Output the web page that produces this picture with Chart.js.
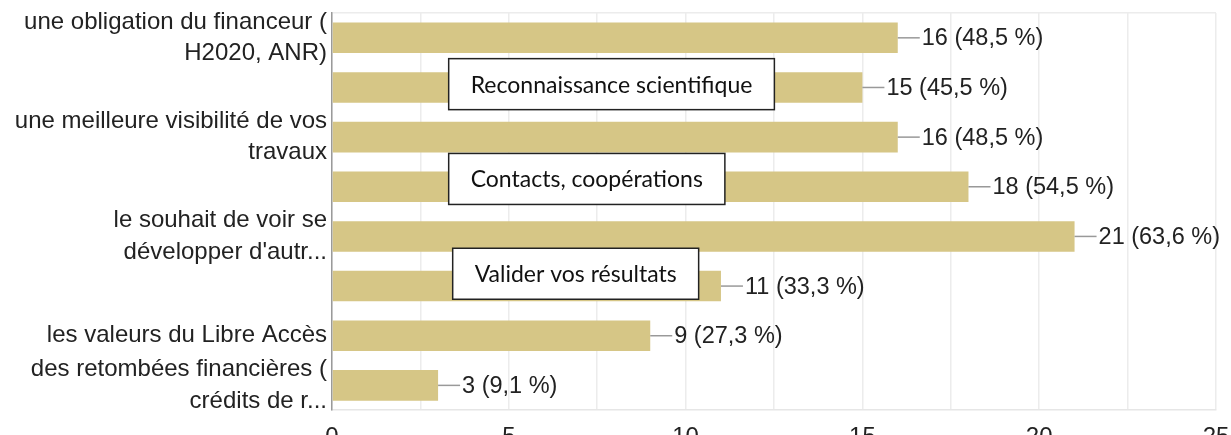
<!DOCTYPE html>
<html>
<head>
<meta charset="utf-8">
<script src="https://cdn.jsdelivr.net/npm/chart.js@4/dist/chart.umd.min.js"></script>
<style>
    body { margin: 0; overflow: hidden; background: #fff; }
    #motifsChart { position: absolute; left: 0; top: 0; }
</style>
</head>
<body>
<canvas id="motifsChart" width="1231" height="460"></canvas>
<script>
// Categories (blank ones are covered by the boxed labels below)
const categories = [
    ['une obligation du financeur (', 'H2020, ANR)'],
    '',
    ['une meilleure visibilité de vos', 'travaux'],
    '',
    ['le souhait de voir se', "développer d'autr..."],
    '',
    'les valeurs du Libre Accès',
    ['des retombées financières (', 'crédits de r...']
];
const counts = [16, 15, 16, 18, 21, 11, 9, 3];
const percents = ['48,5', '45,5', '48,5', '54,5', '63,6', '33,3', '27,3', '9,1'];
const xTicks = [0, 5, 10, 15, 20, 25];

// Boxed captions written over the unlabeled rows
const boxTexts = ['Reconnaissance scientifique', 'Contacts, coopérations', 'Valider vos résultats'];
const boxRows = [1, 3, 5];

const labelFont = 'Liberation Sans, Arial, sans-serif';

// value labels with a small leader line
const valueLabels = {
    id: 'valueLabels',
    afterDatasetsDraw(chart) {
        const ctx = chart.ctx;
        const meta = chart.getDatasetMeta(0);
        ctx.save();
        ctx.font = '23.5px ' + labelFont;
        ctx.textBaseline = 'middle';
        ctx.textAlign = 'left';
        meta.data.forEach((bar, i) => {
            ctx.strokeStyle = '#999';
            ctx.lineWidth = 1.5;
            ctx.beginPath();
            ctx.moveTo(bar.x, bar.y);
            ctx.lineTo(bar.x + 22, bar.y);
            ctx.stroke();
            ctx.fillStyle = '#222';
            ctx.fillText(counts[i] + ' (' + percents[i] + ' %)', bar.x + 24, bar.y + 1);
        });
        ctx.restore();
    }
};

// white boxes with the answer text
const boxLabels = {
    id: 'boxLabels',
    afterDraw(chart) {
        const ctx = chart.ctx;
        const x = chart.scales.x;
        const y = chart.scales.y;
        const step = y.getPixelForValue(1) - y.getPixelForValue(0);
        ctx.save();
        ctx.font = '23px Lato, sans-serif';
        ctx.textBaseline = 'middle';
        boxTexts.forEach((t, i) => {
            const w = ctx.measureText(t).width + 44;
            const h = 51;
            const left = x.getPixelForValue(3.3) + (i === 2 ? 4 : 0);
            const top = y.getPixelForValue(boxRows[i]) - step / 2 - 4 - i * 4.5;
            ctx.fillStyle = '#fff';
            ctx.fillRect(left, top, w, h);
            ctx.strokeStyle = '#222';
            ctx.lineWidth = 1.5;
            ctx.strokeRect(left, top, w, h);
            ctx.fillStyle = '#111';
            ctx.fillText(t, left + 22, top + h / 2 + 1);
        });
        ctx.restore();
    }
};

new Chart(document.getElementById('motifsChart'), {
    type: 'bar',
    data: {
        labels: categories,
        datasets: [{
            data: counts,
            backgroundColor: '#d6c686',
            borderWidth: 0,
            categoryPercentage: 1,
            barPercentage: 0.615
        }]
    },
    options: {
        indexAxis: 'y',
        responsive: false,
        animation: false,
        layout: { padding: { left: 0, right: 15, top: 13, bottom: 8 } },
        plugins: {
            legend: { display: false },
            tooltip: { enabled: false }
        },
        scales: {
            x: {
                min: 0,
                max: 25,
                afterBuildTicks: (s) => {
                    s.ticks = [];
                    for (let v = 0; v <= 25; v += 2.5) s.ticks.push({ value: v });
                },
                afterFit: (s) => {
                    s.height = 41.8;
                    s.paddingLeft = 0;
                    s.paddingRight = 0;
                },
                ticks: {
                    autoSkip: false,
                    maxRotation: 0,
                    padding: 13,
                    color: '#222',
                    font: { family: labelFont, size: 24 },
                    callback: (v) => xTicks.includes(v) ? v : ''
                },
                grid: { color: '#ececec', lineWidth: 1.5, drawTicks: false },
                border: { color: '#e6e6e6', width: 1.5 }
            },
            y: {
                afterFit: (s) => {
                    s.width = 332;
                    s.paddingTop = 0;
                    s.paddingBottom = 0;
                },
                ticks: {
                    autoSkip: false,
                    padding: 5,
                    color: '#222',
                    font: { family: labelFont, size: 24, lineHeight: 1.31 }
                },
                grid: {
                    drawTicks: false,
                    lineWidth: 1.5,
                    color: (c) => c.index === 0 ? '#ececec' : 'rgba(0,0,0,0)'
                },
                border: { color: '#9a9a9a', width: 1.5 }
            }
        }
    },
    plugins: [valueLabels, boxLabels]
});
</script>
</body>
</html>
